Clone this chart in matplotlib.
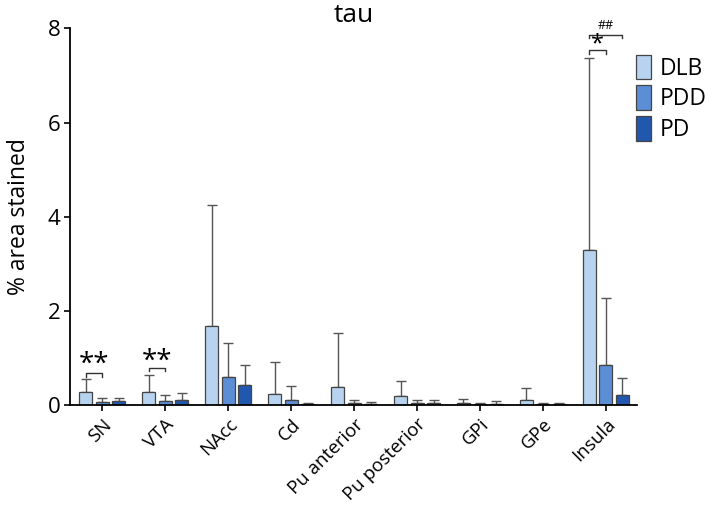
import matplotlib.pyplot as plt
import numpy as np

plt.rcParams['font.family'] = ['Open Sans', 'DejaVu Sans']

# regions and group values (% area stained, mean and upper error)
regions = ['SN', 'VTA', 'NAcc', 'Cd', 'Pu anterior', 'Pu posterior', 'GPi', 'GPe', 'Insula']
groups = ['DLB', 'PDD', 'PD']
dlb_mean = [0.27, 0.27, 1.67, 0.24, 0.38, 0.18, 0.05, 0.10, 3.30]
dlb_top = [0.54, 0.64, 4.25, 0.91, 1.52, 0.50, 0.13, 0.36, 7.38]
pdd_mean = [0.06, 0.08, 0.59, 0.11, 0.05, 0.04, 0.01, 0.02, 0.84]
pdd_top = [0.15, 0.22, 1.31, 0.40, 0.11, 0.10, 0.03, 0.05, 2.27]
pd_mean = [0.09, 0.11, 0.43, 0.01, 0.02, 0.04, 0.02, 0.02, 0.20]
pd_top = [0.14, 0.26, 0.84, 0.04, 0.06, 0.10, 0.08, 0.05, 0.57]
colors = ['#b7d3ef', '#5b8ed4', '#2157ae']

means = [dlb_mean, pdd_mean, pd_mean]
tops = [dlb_top, pdd_top, pd_top]

fig = plt.figure(figsize=(7.09, 5.08), dpi=100)
ax = fig.add_axes([0.0987, 0.203, 0.7995, 0.741])

x = np.arange(len(regions))
off = 0.262
w = 0.206
for i in range(3):
    m = np.array(means[i])
    err = np.array(tops[i]) - m
    ax.bar(x + (i - 1) * off, m, w, color=colors[i], edgecolor='#444444',
           linewidth=0.9, label=groups[i], zorder=2,
           yerr=[np.zeros_like(err), err], capsize=3.5,
           error_kw=dict(ecolor='#555555', elinewidth=1.0, capthick=1.0, zorder=1))


def bracket(x1, x2, y, h, text, fs, ty, va='bottom'):
    ax.plot([x1, x1, x2, x2], [y - h, y, y, y - h], color='#333333', lw=1.0, clip_on=False)
    ax.text((x1 + x2) / 2, ty, text, ha='center', va=va, fontsize=fs, clip_on=False)


bracket(0 - off, 0, 0.68, 0.08, '**', 20, 0.85, 'center')
bracket(1 - off, 1, 0.79, 0.08, '**', 20, 0.91, 'center')
bracket(8 - off, 8, 7.54, 0.08, '*', 17, 7.66, 'center')
bracket(8 - off, 8 + off, 7.87, 0.08, '##', 9, 7.93)

ax.set_xlim(-0.51, 8.49)
ax.set_ylim(0, 8)
ax.set_yticks([0, 2, 4, 6, 8])
ax.set_xticks(x)
ax.set_xticklabels(regions, rotation=45, ha='right', rotation_mode='anchor', fontsize=13.5)
ax.tick_params(axis='y', labelsize=16, length=4, width=1.2, pad=3)
ax.tick_params(axis='x', length=4, width=1.2)
ax.set_ylabel('% area stained', fontsize=16.5, labelpad=12)
ax.set_title('tau', fontsize=19, pad=3)
for s in ['top', 'right']:
    ax.spines[s].set_visible(False)
for s in ['left', 'bottom']:
    ax.spines[s].set_linewidth(1.3)

ax.legend(loc='upper left', bbox_to_anchor=(0.998, 0.93), frameon=False, fontsize=16.5,
          handlelength=0.66, handleheight=1.28, handletextpad=0.4, labelspacing=0.2,
          borderaxespad=0, borderpad=0)

fig.savefig('out.png', dpi=100)
